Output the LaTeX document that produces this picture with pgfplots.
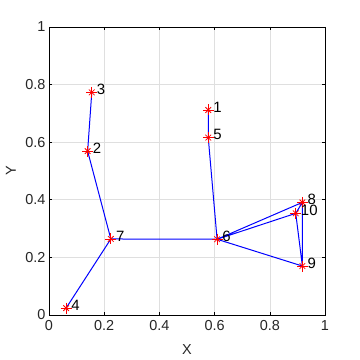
\documentclass[border=0pt]{standalone}
\usepackage{fontspec}
\setmainfont{Liberation Sans}
\usepackage{pgfplots}
\pgfplotsset{compat=1.18}
\usepackage{pgfplotstable}
\definecolor{mlgray}{rgb}{0.15,0.15,0.15}

% node positions
\pgfplotstableread{
x      y      label
0.577  0.712  1
0.140  0.569  2
0.155  0.773  3
0.062  0.024  4
0.577  0.616  5
0.609  0.263  6
0.224  0.264  7
0.918  0.391  8
0.918  0.170  9
0.894  0.353  10
}\nodes

\begin{document}
\begin{tikzpicture}
  \useasboundingbox (-49bp,-45bp) rectangle (311bp,315bp);
  \begin{axis}[
      at={(0,0)}, anchor=south west,
      scale only axis,
      width=276bp, height=288bp,
      xmin=0, xmax=1, ymin=0, ymax=1,
      xtick={0,0.2,...,1}, ytick={0,0.2,...,1},
      /pgf/number format/assume math mode=true,
      ticklabel style={font=\fontsize{14.5}{16}\selectfont, text=mlgray},
      label style={font=\fontsize{14.5}{16}\selectfont, text=mlgray},
      xlabel={X}, ylabel={Y},
      xlabel style={at={(axis description cs:0.5,-0.1215)}, anchor=center},
      ylabel style={at={(axis description cs:-0.1377,0.5)}, anchor=center},
      xticklabel style={yshift=-2bp},
      grid=major,
      grid style={gray!25, line width=0.6bp},
      axis line style={black, line width=0.7bp},
      tick pos=both, tick align=inside,
      major tick length=3bp,
      tick style={black, line width=0.6bp},
      unbounded coords=jump,
    ]
    % edges
    \addplot[blue, line width=1bp, mark=none] coordinates {
      (0.577,0.712) (0.577,0.616) (0.609,0.263)
      (nan,nan)
      (0.155,0.773) (0.140,0.569) (0.224,0.264) (0.062,0.024)
      (nan,nan)
      (0.224,0.264) (0.609,0.263) (0.918,0.391) (0.894,0.353) (0.609,0.263) (0.918,0.170) (0.918,0.391)
      (nan,nan)
      (0.894,0.353) (0.918,0.170)
    };
    % markers
    \addplot[only marks, red, mark=+, mark size=5.5bp, line width=0.8bp] table[x=x, y=y] {\nodes};
    \addplot[only marks, red, mark=x, mark size=4bp, line width=0.8bp] table[x=x, y=y] {\nodes};
    % labels
    \addplot[only marks, mark=none,
      nodes near coords, point meta=explicit symbolic,
      every node near coord/.style={anchor=west, inner sep=0pt, xshift=5bp, yshift=3bp,
        font=\fontsize{15}{17}\selectfont, text=black}]
      table[x=x, y=y, meta=label] {\nodes};
  \end{axis}
\end{tikzpicture}
\end{document}
